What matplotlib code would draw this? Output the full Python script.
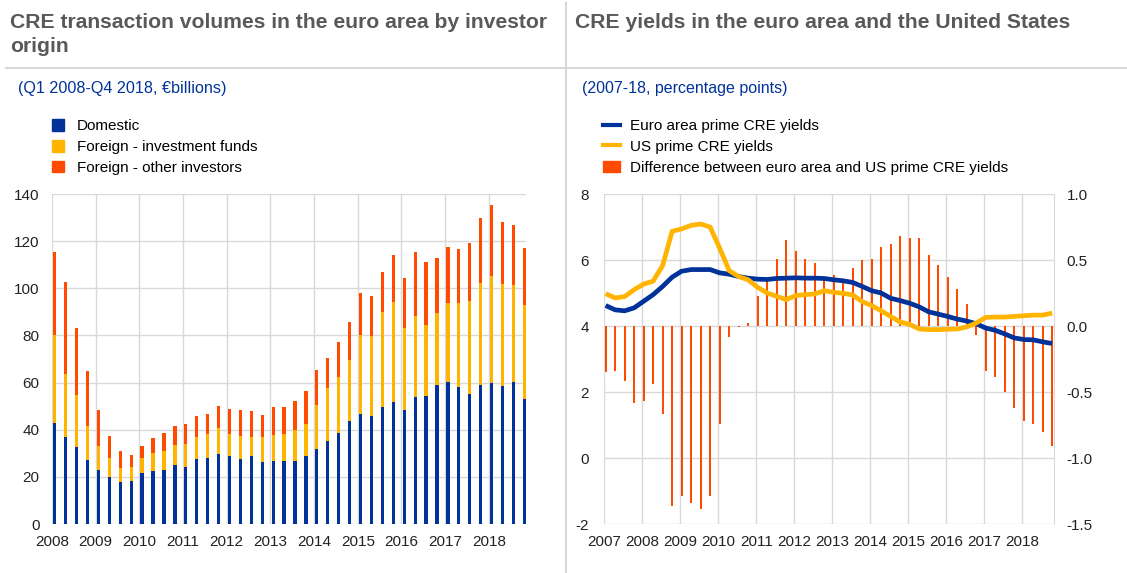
import numpy as np
import matplotlib.pyplot as plt
from matplotlib.patches import Patch
from matplotlib.lines import Line2D

plt.rcParams['font.family'] = ['Liberation Sans', 'DejaVu Sans']
plt.rcParams['axes.unicode_minus'] = False

# ---- left panel: CRE transaction volumes (Q1 2008 - Q4 2018, EUR bn)
left_years = list(range(2008, 2019))
domestic = [42.9, 36.8, 32.7, 27.3, 22.9, 19.8, 17.8, 18.4, 21.6, 22.3, 22.8, 24.9,
            24.2, 27.6, 28.1, 29.6, 29.0, 27.7, 28.7, 26.4, 26.9, 26.6, 26.6, 28.7,
            32.0, 35.1, 38.5, 43.6, 46.5, 45.7, 49.8, 51.6, 48.2, 53.7, 54.2, 59.0,
            60.4, 58.0, 55.0, 59.1, 60.0, 58.7, 60.4, 53.0]
foreign_funds = [37.3, 26.7, 22.0, 14.3, 10.3, 8.1, 6.1, 5.8, 6.3, 8.0, 8.0, 8.6,
                 9.7, 9.2, 10.1, 11.0, 9.3, 9.5, 8.4, 10.4, 10.7, 11.7, 13.4, 13.7,
                 18.6, 22.7, 23.7, 26.0, 33.8, 34.2, 40.0, 42.4, 35.1, 34.7, 30.2, 30.7,
                 33.4, 35.8, 39.6, 43.1, 45.1, 43.1, 41.0, 39.9]
foreign_other = [35.1, 39.3, 28.3, 23.2, 15.0, 9.3, 7.2, 5.1, 5.1, 6.3, 7.9, 8.2,
                 8.5, 9.2, 8.6, 9.6, 10.5, 11.0, 10.7, 9.4, 12.0, 11.5, 12.3, 14.0,
                 14.6, 12.5, 15.2, 16.1, 17.7, 16.8, 17.1, 20.0, 21.1, 27.1, 26.9, 23.2,
                 23.6, 22.9, 24.8, 27.6, 30.2, 26.5, 25.3, 24.2]

# ---- right panel: CRE yields (2007-18, percentage points)
right_years = list(range(2007, 2019))
euro_yields = [4.62, 4.49, 4.46, 4.55, 4.75, 4.95, 5.20, 5.48, 5.66, 5.71, 5.71, 5.71,
               5.61, 5.57, 5.50, 5.45, 5.42, 5.41, 5.44, 5.45, 5.46, 5.45, 5.45, 5.44,
               5.40, 5.37, 5.32, 5.20, 5.07, 5.00, 4.84, 4.77, 4.69, 4.58, 4.43, 4.36,
               4.29, 4.21, 4.15, 4.07, 3.94, 3.87, 3.76, 3.64, 3.59, 3.58, 3.52, 3.47]
us_yields = [4.98, 4.85, 4.89, 5.10, 5.27, 5.36, 5.83, 6.87, 6.94, 7.05, 7.09, 7.00,
             6.36, 5.68, 5.50, 5.40, 5.17, 5.00, 4.90, 4.80, 4.92, 4.95, 4.97, 5.07,
             5.02, 4.99, 4.94, 4.74, 4.62, 4.46, 4.29, 4.12, 4.05, 3.91, 3.89, 3.89,
             3.90, 3.91, 3.97, 4.09, 4.26, 4.27, 4.27, 4.29, 4.31, 4.33, 4.33, 4.39]
yield_diff = [-0.35, -0.34, -0.42, -0.58, -0.57, -0.44, -0.67, -1.36,
              -1.29, -1.34, -1.39, -1.29, -0.74, -0.08, -0.005, 0.025,
              0.23, 0.34, 0.51, 0.65, 0.57, 0.51, 0.48, 0.37,
              0.39, 0.33, 0.44, 0.50, 0.51, 0.60, 0.62, 0.68,
              0.67, 0.67, 0.535, 0.465, 0.37, 0.28, 0.17, -0.07,
              -0.34, -0.39, -0.50, -0.62, -0.72, -0.74, -0.80, -0.91]

BLUE = "#003299"
YELLOW = "#FFB400"
ORANGE = "#FF4B00"
GRID = "#D9D9D9"
TITLE_GREY = "#595959"

W, H = 1127, 573
fig = plt.figure(figsize=(W / 100, H / 100), dpi=100)


def fx(px):
    return px / W


def fy(py):
    return 1 - py / H


# ---------------- left chart
ax1 = fig.add_axes([fx(52), fy(524), fx(526) - fx(52), fy(194) - fy(524)])
xq = left_years[0] + np.arange(len(domestic)) * 0.25
dom = np.array(domestic)
funds = np.array(foreign_funds)
other = np.array(foreign_other)
ax1.bar(xq + 0.025, dom, width=0.075, align="edge", color=BLUE, zorder=2)
ax1.bar(xq + 0.025, funds, width=0.075, align="edge", bottom=dom, color=YELLOW, zorder=2)
ax1.bar(xq + 0.025, other, width=0.075, align="edge", bottom=dom + funds, color=ORANGE, zorder=2)
ax1.set_xlim(2008, 2018.85)
ax1.set_ylim(0, 140)
ax1.set_xticks(left_years)
ax1.set_yticks(range(0, 141, 20))
ax1.grid(True, color=GRID, lw=1, zorder=0)
ax1.set_axisbelow(True)
for s in ax1.spines.values():
    s.set_visible(False)
ax1.tick_params(length=0, labelsize=11, colors="#222222")
ax1.tick_params(axis="y", pad=9)
ax1.tick_params(axis="x", pad=8)

# ---------------- right chart: bars on the base axes (right scale), lines on the twin
ax2 = fig.add_axes([fx(604.3), fy(524), fx(1053.5) - fx(604.3), fy(194) - fy(524)])
ax3 = ax2.twinx()

xr = right_years[0] + np.arange(len(euro_yields)) * 0.25 + 0.035
ax2.bar(xr, yield_diff, width=0.05, color=ORANGE, zorder=2)
ax2.set_ylim(-1.5, 1.0)
diff_ticks = np.arange(-1.5, 1.01, 0.5)
ax2.set_yticks(diff_ticks)
ax2.set_yticklabels([f"{v:.1f}" for v in diff_ticks])
ax2.yaxis.tick_right()
ax2.set_xlim(2007, 2018.82)
ax2.set_xticks(right_years)
ax2.grid(True, color=GRID, lw=1, zorder=0)
ax2.set_axisbelow(True)
for s in ax2.spines.values():
    s.set_visible(False)
ax2.spines["right"].set_visible(True)
ax2.spines["right"].set_color(GRID)
ax2.tick_params(length=0, labelsize=11, colors="#222222")
ax2.tick_params(axis="y", pad=9.5)
ax2.tick_params(axis="x", pad=8)

ax3.plot(xr, euro_yields, color=BLUE, lw=3.4, solid_capstyle="butt", zorder=3)
ax3.plot(xr, us_yields, color=YELLOW, lw=3.4, solid_capstyle="butt", zorder=3)
ax3.set_ylim(-2, 8)
ax3.set_yticks(range(-2, 9, 2))
ax3.yaxis.tick_left()
for s in ax3.spines.values():
    s.set_visible(False)
ax3.tick_params(length=0, labelsize=11, colors="#222222", pad=11)

# ---------------- frame lines, titles and legends
fig.add_artist(Line2D([fx(566), fx(566)], [0, fy(3)], transform=fig.transFigure, color=GRID, lw=1.5))
fig.add_artist(Line2D([fx(6), 1], [fy(68), fy(68)], transform=fig.transFigure, color=GRID, lw=1.5))

fig.text(fx(10), fy(22), "CRE transaction volumes in the euro area by investor",
         fontsize=15.2, fontweight="bold", color=TITLE_GREY, va="center", ha="left")
fig.text(fx(10), fy(47), "origin",
         fontsize=15.2, fontweight="bold", color=TITLE_GREY, va="center", ha="left")
fig.text(fx(575), fy(22), "CRE yields in the euro area and the United States",
         fontsize=15.2, fontweight="bold", color=TITLE_GREY, va="center", ha="left")

fig.text(fx(18), fy(89), "(Q1 2008-Q4 2018, \u20acbillions)", fontsize=11.6, color=BLUE,
         va="center", ha="left")
fig.text(fx(582), fy(89), "(2007-18, percentage points)", fontsize=11.5, color=BLUE,
         va="center", ha="left")

left_handles = [Patch(color=BLUE), Patch(color=YELLOW), Patch(color=ORANGE)]
fig.legend(left_handles, ["Domestic", "Foreign - investment funds", "Foreign - other investors"],
           loc="upper left", bbox_to_anchor=(fx(52), fy(119)), frameon=False, fontsize=11,
           handlelength=0.8, handleheight=0.8, handletextpad=0.85, labelspacing=0.44,
           borderpad=0, borderaxespad=0)

right_handles = [Line2D([], [], color=BLUE, lw=3), Line2D([], [], color=YELLOW, lw=3),
                 Patch(color=ORANGE)]
fig.legend(right_handles, ["Euro area prime CRE yields", "US prime CRE yields",
                           "Difference between euro area and US prime CRE yields"],
           loc="upper left", bbox_to_anchor=(fx(603), fy(119)), frameon=False, fontsize=11,
           handlelength=1.1, handleheight=0.8, handletextpad=0.65, labelspacing=0.44,
           borderpad=0, borderaxespad=0)

fig.savefig("out.png", dpi=100)
